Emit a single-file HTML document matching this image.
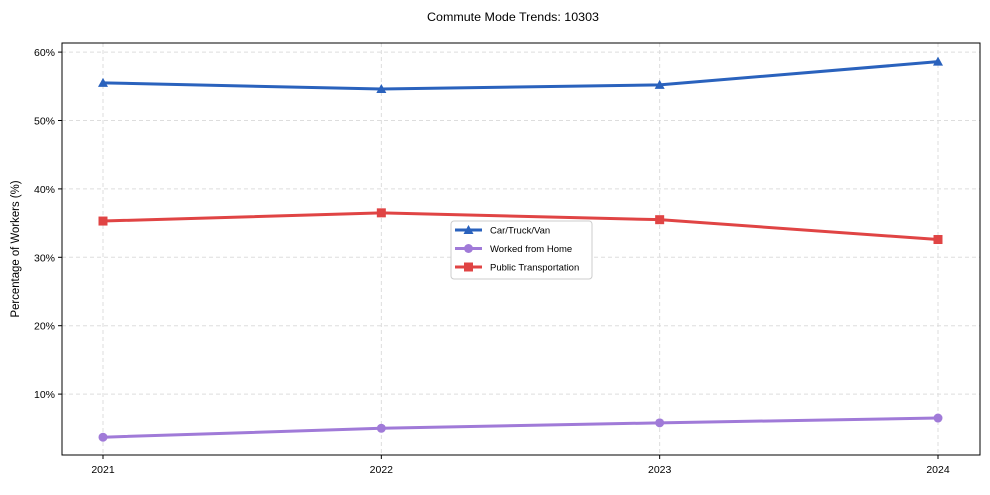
<!DOCTYPE html>
<html><head><meta charset="utf-8"><style>
body{margin:0;background:#fff;font-family:"Liberation Sans",Arial,sans-serif;}
svg text{font-family:"Liberation Sans",Arial,sans-serif;fill:#000;}
</style></head><body>
<svg id="chart" width="990" height="490" xmlns="http://www.w3.org/2000/svg"></svg>
<script>
const years = ["2021","2022","2023","2024"];
const carValues = [55.5, 54.6, 55.2, 58.6];
const wfhValues = [3.7, 5.0, 5.8, 6.5];
const publicValues = [35.3, 36.5, 35.5, 32.6];
const yTicks = [10,20,30,40,50,60];

const svg = document.getElementById('chart');
const NS = 'http://www.w3.org/2000/svg';
const L=62,R=980,T=43,B=455;
const x = i => 103 + i*(938-103)/(years.length-1);
const y = v => 462.5 - v*6.84;
function mk(tag, attrs, parent){const e=document.createElementNS(NS,tag);for(const k in attrs)e.setAttribute(k,attrs[k]);(parent||svg).appendChild(e);return e;}

let t = mk('text',{x:513,y:21,'text-anchor':'middle','font-size':12,textLength:172,lengthAdjust:'spacingAndGlyphs'});
t.textContent='Commute Mode Trends: 10303';



yTicks.forEach(v=>{
  const g=mk('line',{x1:L,x2:R,y1:y(v),y2:y(v),stroke:'#ddd','stroke-dasharray':'4,3'});
  
  
  mk('line',{x1:L-4,x2:L,y1:y(v),y2:y(v),stroke:'#000'});
  const lb=mk('text',{x:L-7,y:y(v)+4,'text-anchor':'end','font-size':10.5});
  lb.textContent=v+'%';
  
  
});
years.forEach((yr,i)=>{
  const g=mk('line',{x1:x(i),x2:x(i),y1:T,y2:B,stroke:'#ddd','stroke-dasharray':'4,3'});
  
  
  mk('line',{x1:x(i),x2:x(i),y1:B,y2:B+4,stroke:'#000'});
  const lb=mk('text',{x:x(i),y:B+18,'text-anchor':'middle','font-size':10.5});
  lb.textContent=yr;
  
  
});
const frame=mk('rect',{x:L,y:T,width:R-L,height:B-T,fill:'none',stroke:'#000','stroke-width':1});



const yl=mk('text',{x:19,y:(T+B)/2,'text-anchor':'middle','font-size':11.5,transform:`rotate(-90 19 ${(T+B)/2})`,textLength:137,lengthAdjust:'spacingAndGlyphs'});
yl.textContent='Percentage of Workers (%)';



function marker(type,cx,cy,color,parent){
  if(type==='tri') return mk('polygon',{points:`${cx},${cy-5} ${cx-5},${cy+4} ${cx+5},${cy+4}`,fill:color},parent);
  if(type==='circ') return mk('circle',{cx,cy,r:4.5,fill:color},parent);
  return mk('rect',{x:cx-4.5,y:cy-4.5,width:9,height:9,fill:color},parent);
}
const series=[
  {name:'car-truck-van',label:'Car/Truck/Van',vals:carValues,color:'#2a62bd',m:'tri'},
  {name:'worked-from-home',label:'Worked from Home',vals:wfhValues,color:'#a07ad8',m:'circ'},
  {name:'public-transportation',label:'Public Transportation',vals:publicValues,color:'#e04444',m:'sq'}
];
series.forEach(s=>{
  const g=mk('g',{});
  
  
  mk('polyline',{points:s.vals.map((v,i)=>x(i)+','+y(v)).join(' '),fill:'none',stroke:s.color,'stroke-width':3},g);
  s.vals.forEach((v,i)=>{
    const p=marker(s.m,x(i),y(v),s.color,g);
    
    
  });
});

const lg=mk('g',{});


mk('rect',{x:451,y:221,width:141,height:58,rx:3,fill:'#fff',stroke:'#ccc'},lg);
series.forEach((s,i)=>{
  const cy=230+i*18.5;
  const e=mk('g',{},lg);
  
  
  mk('line',{x1:455,x2:482,y1:cy,y2:cy,stroke:s.color,'stroke-width':3},e);
  marker(s.m,468.5,cy,s.color,e);
  const tx=mk('text',{x:490,y:cy+3.5,'font-size':9.5},e);
  tx.textContent=s.label;
});
</script>
</body></html>
